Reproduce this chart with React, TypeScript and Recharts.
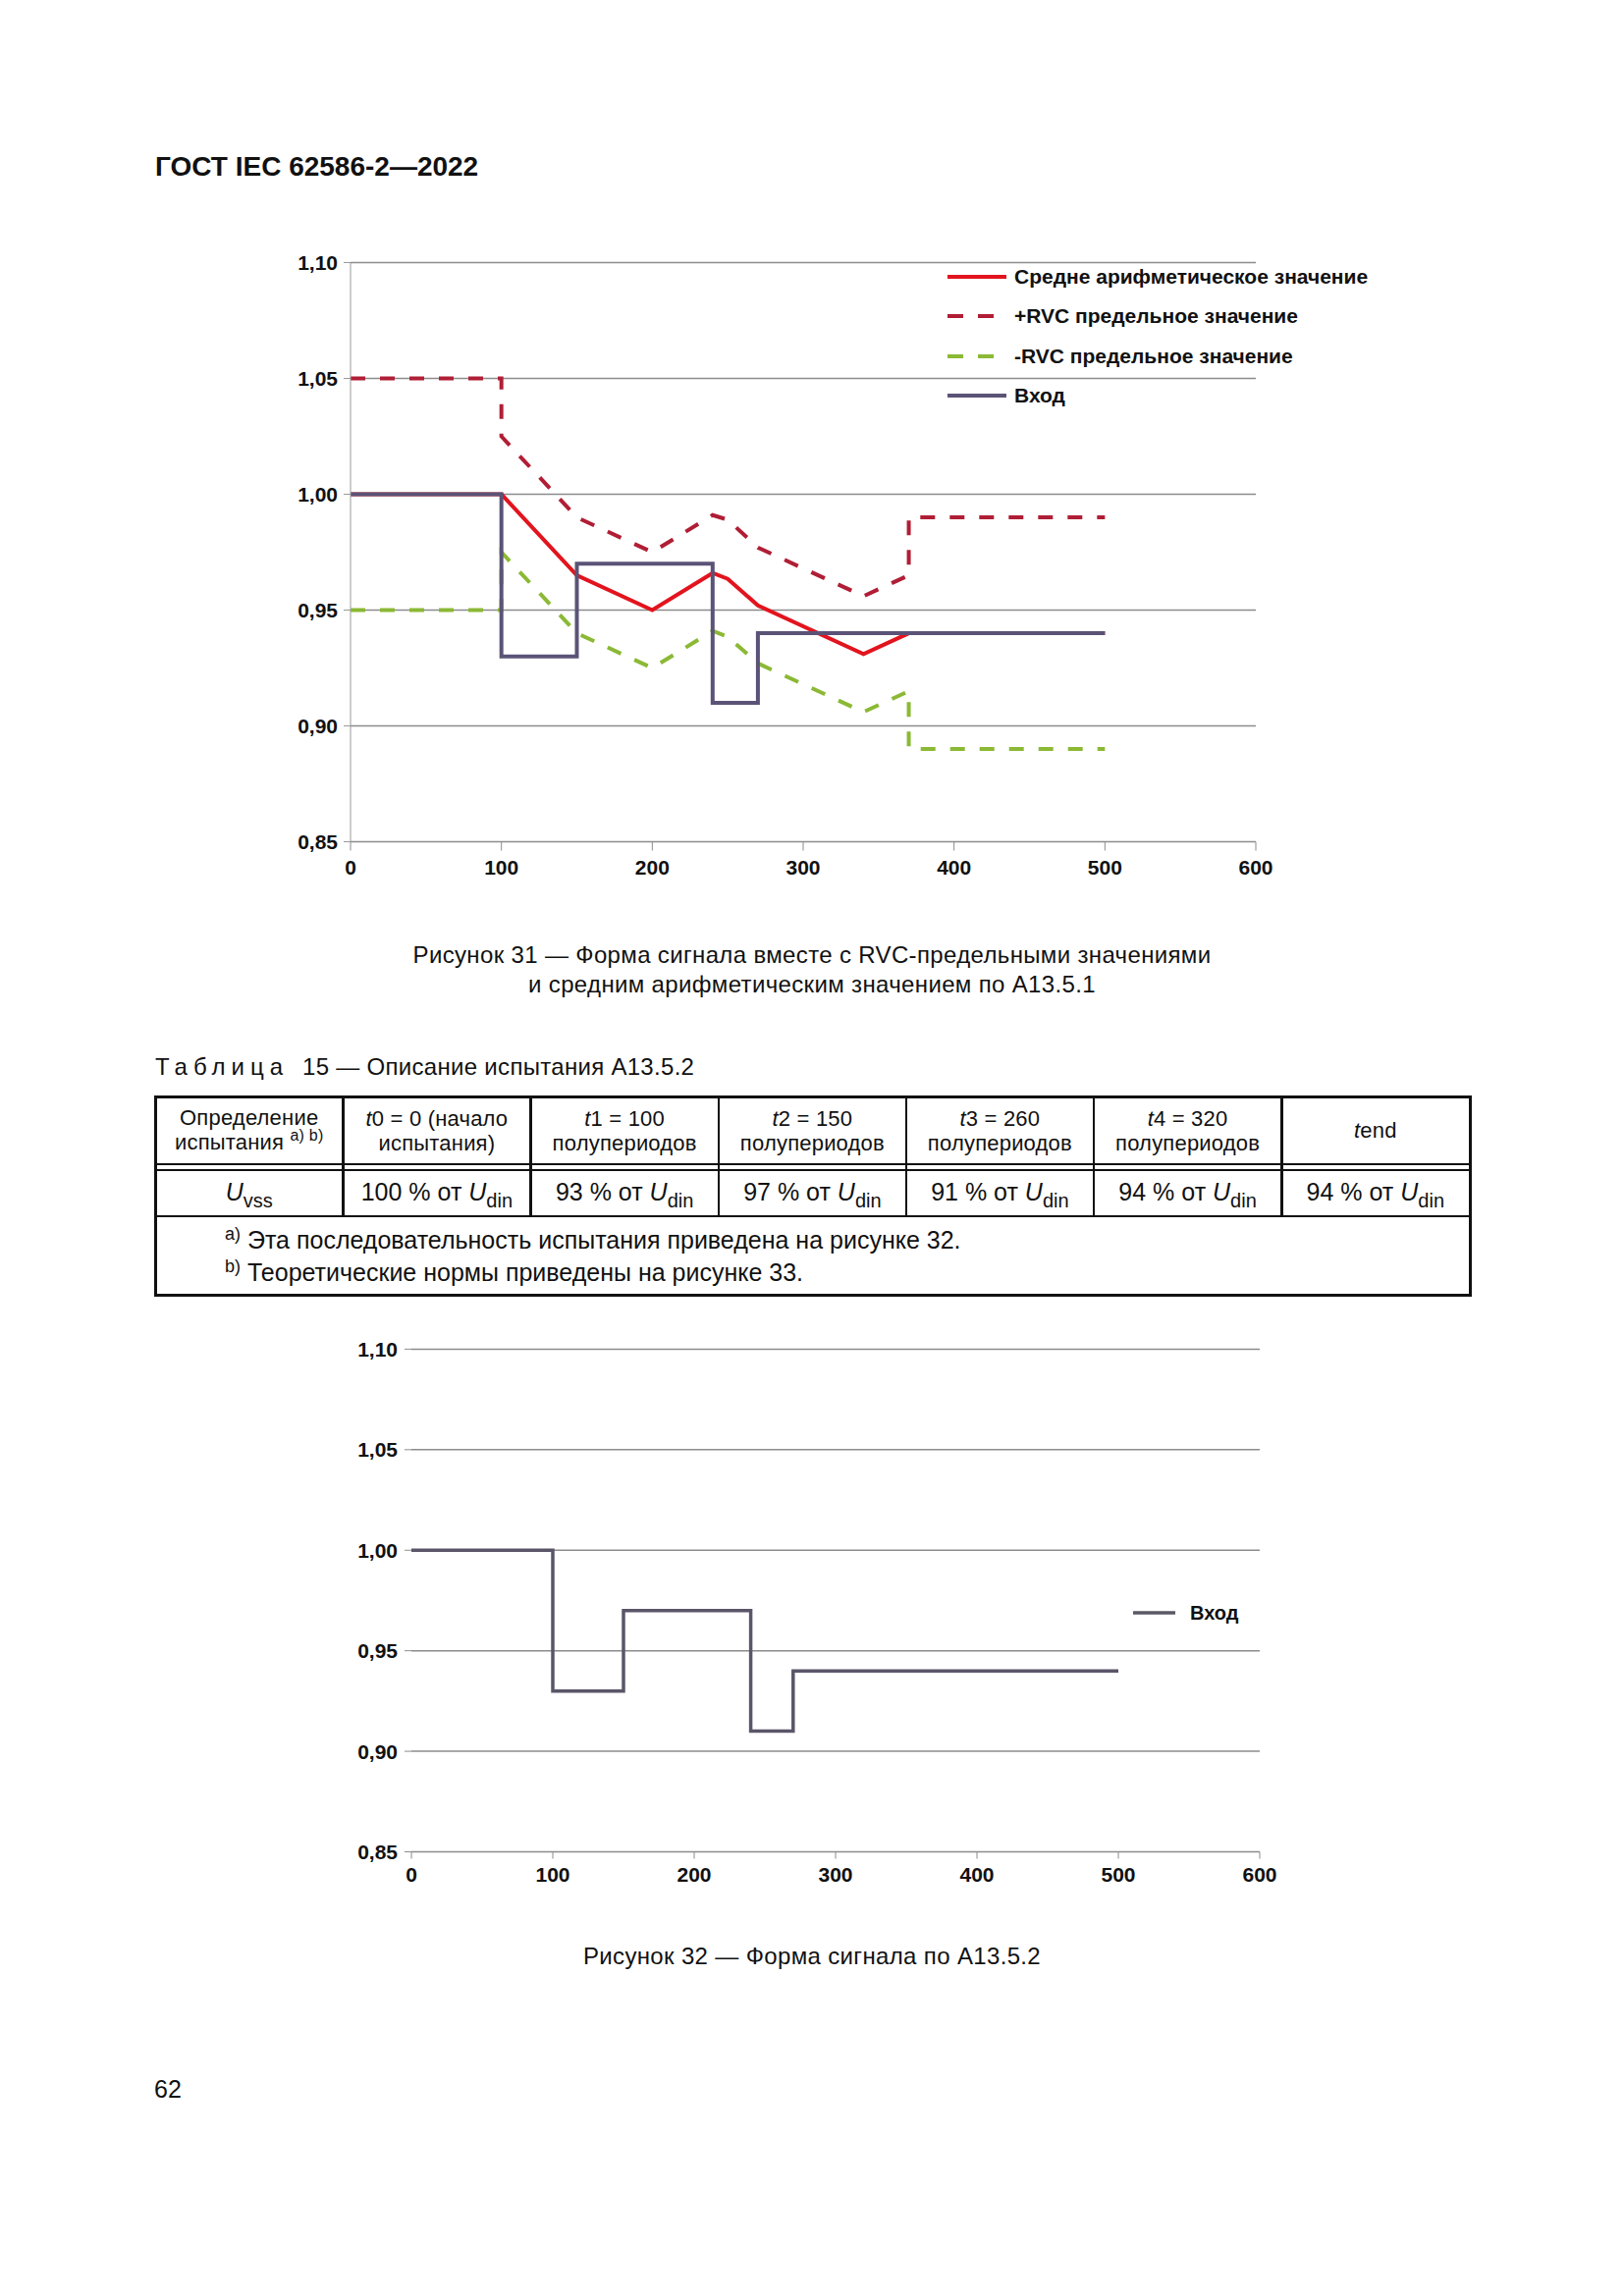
import React from "react";
import { LineChart, Line, XAxis, YAxis, CartesianGrid, Legend } from "recharts";

// axis ticks
const xTicks = [0, 100, 200, 300, 400, 500, 600];
const yTicks = [0.85, 0.9, 0.95, 1.0, 1.05, 1.1];

// mean value (Средне арифметическое значение)
const meanX = [0, 100, 150, 200, 240, 250, 270, 340, 370, 500];
const meanY = [1.0, 1.0, 0.965, 0.95, 0.966, 0.9635, 0.952, 0.931, 0.94, 0.94];

// +RVC limit
const upperX = [0, 100, 100, 150, 200, 240, 250, 270, 340, 370, 370, 500];
const upperY = [1.05, 1.05, 1.025, 0.99, 0.975, 0.991, 0.989, 0.977, 0.956, 0.965, 0.99, 0.99];

// -RVC limit
const lowerX = [0, 100, 100, 150, 200, 240, 250, 270, 340, 370, 370, 500];
const lowerY = [0.95, 0.95, 0.975, 0.94, 0.925, 0.941, 0.9385, 0.927, 0.906, 0.915, 0.89, 0.89];

// input (Вход), step after each time
const inputX = [0, 100, 150, 240, 270, 500];
const inputY = [1.0, 0.93, 0.97, 0.91, 0.94, 0.94];

// table 15
const tableTimes = ["0 = 0 (начало", "1 = 100", "2 = 150", "3 = 260", "4 = 320"];
const tablePercents = [100, 93, 97, 91, 94, 94];

const RED = "#e2141e";
const DARKRED = "#b01e35";
const GREEN = "#8bb935";
const INPUT = "#5b5377";
const GRID = "#8c8c8c";
const FONT = "'Liberation Sans', Arial, Helvetica, sans-serif";

const pts = (xs: number[], ys: number[]) => xs.map((x, i) => ({ x, y: ys[i] }));
const fmt = (v: number) => v.toFixed(2).replace(".", ",");

const legend1 = [
  { label: "Средне арифметическое значение", color: RED, dash: undefined },
  { label: "+RVC предельное значение", color: DARKRED, dash: "16 15" },
  { label: "-RVC предельное значение", color: GREEN, dash: "16 15" },
  { label: "Вход", color: INPUT, dash: undefined },
];

function Legend1() {
  return (
    <div style={{ fontFamily: FONT, fontWeight: 700, fontSize: 21, color: "#111" }}>
      {legend1.map((it) => (
        <div key={it.label} style={{ height: 40.5, display: "flex", alignItems: "center", whiteSpace: "nowrap" }}>
          <svg width={60} height={8} style={{ marginRight: 8 }}>
            <line x1={0} y1={4} x2={60} y2={4} stroke={it.color} strokeWidth={4} strokeDasharray={it.dash} />
          </svg>
          {it.label}
        </div>
      ))}
    </div>
  );
}

function Legend2() {
  return (
    <div style={{ fontFamily: FONT, fontWeight: 700, fontSize: 20, color: "#111", display: "flex", alignItems: "center", height: 30 }}>
      <svg width={43} height={6} style={{ marginRight: 15 }}>
        <line x1={0} y1={3} x2={43} y2={3} stroke="#5a5866" strokeWidth={3.5} />
      </svg>
      Вход
    </div>
  );
}

const tickStyle = { fill: "#111", fontSize: 21, fontWeight: 700, fontFamily: FONT };

function Chart1() {
  return (
    <div style={{ position: "absolute", left: 250, top: 240 }}>
      <LineChart width={1200} height={700} margin={{ top: 27.5, right: 171, bottom: 42.5, left: 27 }}>
        <CartesianGrid vertical={false} stroke={GRID} strokeWidth={1.5} />
        <XAxis
          dataKey="x"
          type="number"
          domain={[0, 600]}
          ticks={xTicks}
          height={40}
          stroke={GRID}
          tickSize={9}
          tickMargin={10}
          tick={tickStyle}
          interval={0}
        />
        <YAxis
          type="number"
          domain={[0.85, 1.1]}
          ticks={yTicks}
          width={80}
          stroke="#9a9a9a"
          tickSize={7}
          tickMargin={6}
          tick={tickStyle}
          tickFormatter={fmt}
          interval={0}
        />
        <Line data={pts(upperX, upperY)} dataKey="y" stroke={DARKRED} strokeWidth={4} strokeDasharray="15 15" dot={false} isAnimationActive={false} />
        <Line data={pts(lowerX, lowerY)} dataKey="y" stroke={GREEN} strokeWidth={4} strokeDasharray="15 15" dot={false} isAnimationActive={false} />
        <Line data={pts(meanX, meanY)} dataKey="y" stroke={RED} strokeWidth={4} dot={false} isAnimationActive={false} />
        <Line data={pts(inputX, inputY)} dataKey="y" type="stepAfter" stroke={INPUT} strokeWidth={4} dot={false} isAnimationActive={false} />
        <Legend
          layout="horizontal"
          align="center"
          verticalAlign="middle"
          content={() => <Legend1 />}
          wrapperStyle={{ position: "absolute", left: 715, top: 21.5, width: 460 }}
        />
      </LineChart>
    </div>
  );
}

function Chart2() {
  return (
    <div style={{ position: "absolute", left: 330, top: 1340 }}>
      <LineChart width={1000} height={620} margin={{ top: 34.4, right: 47, bottom: 33.5, left: 19 }}>
        <CartesianGrid vertical={false} stroke={GRID} strokeWidth={1.5} />
        <XAxis
          dataKey="x"
          type="number"
          domain={[0, 600]}
          ticks={xTicks}
          height={40}
          stroke={GRID}
          tickSize={7}
          tickMargin={9}
          tick={tickStyle}
          interval={0}
        />
        <YAxis
          type="number"
          domain={[0.85, 1.1]}
          ticks={yTicks}
          width={70}
          axisLine={false}
          stroke={GRID}
          tickSize={7}
          tickMargin={7}
          tick={tickStyle}
          tickFormatter={fmt}
          interval={0}
        />
        <Line data={pts(inputX, inputY)} dataKey="y" type="stepAfter" stroke="#5a5568" strokeWidth={3.5} dot={false} isAnimationActive={false} />
        <Legend
          layout="horizontal"
          align="center"
          verticalAlign="middle"
          content={() => <Legend2 />}
          wrapperStyle={{ position: "absolute", left: 824, top: 288, width: 120 }}
        />
      </LineChart>
    </div>
  );
}

const colEdges = [158, 349.4, 540.4, 731.9, 922.9, 1113.9, 1305.3, 1496.3];

function Sub({ children }: { children: React.ReactNode }) {
  return <span style={{ fontSize: 20, position: "relative", top: 7 }}>{children}</span>;
}
function Sup({ children, size = 16 }: { children: React.ReactNode; size?: number }) {
  return <span style={{ fontSize: size, position: "relative", top: -9 }}>{children}</span>;
}

function Table15() {
  const heads: React.ReactNode[] = [
    <>Определение<br />испытания <Sup size={16}>a) b)</Sup></>,
    ...tableTimes.map((t, i) => (
      <>
        <i>t</i>{t}
        <br />
        {i === 0 ? "испытания)" : "полупериодов"}
      </>
    )),
    <><i>t</i>end</>,
  ];
  const vals: React.ReactNode[] = [
    <><i>U</i><Sub>vss</Sub></>,
    ...tablePercents.map((p) => (
      <>{p} % от <i>U</i><Sub>din</Sub></>
    )),
  ];
  const line = (l: number, t: number, w: number, h: number) => (
    <div style={{ position: "absolute", left: l, top: t, width: w, height: h, background: "#111" }} />
  );
  return (
    <>
      {/* outer frame */}
      {line(157, 1115.5, 1341, 3)}
      {line(157, 1317.5, 1341, 3)}
      {line(157, 1115.5, 3, 205)}
      {line(1495.5, 1115.5, 3, 205)}
      {/* double rule and lower rule */}
      {line(157, 1185, 1341, 2)}
      {line(157, 1190.5, 1341, 2)}
      {line(157, 1237.5, 1341, 2.5)}
      {colEdges.slice(1, -1).map((x) => (
        <div key={x}>{line(x - 1, 1116, 2.5, 122)}</div>
      ))}
      {heads.map((h, i) => (
        <div
          key={"h" + i}
          style={{
            position: "absolute",
            left: colEdges[i],
            width: colEdges[i + 1] - colEdges[i],
            top: 1118,
            height: 67,
            display: "flex",
            alignItems: "center",
            justifyContent: "center",
            textAlign: "center",
            fontSize: 22,
            letterSpacing: 0.2,
            lineHeight: "25px",
          }}
        >
          <div>{h}</div>
        </div>
      ))}
      {vals.map((v, i) => (
        <div
          key={"v" + i}
          style={{
            position: "absolute",
            left: colEdges[i],
            width: colEdges[i + 1] - colEdges[i],
            top: 1192,
            height: 46,
            display: "flex",
            alignItems: "center",
            justifyContent: "center",
            fontSize: 25,
            lineHeight: "28px",
            whiteSpace: "nowrap",
          }}
        >
          <div>{v}</div>
        </div>
      ))}
      <div style={{ position: "absolute", left: 229, top: 1248, fontSize: 25, lineHeight: "30px", whiteSpace: "nowrap" }}>
        <div><Sup size={18}>a)</Sup> Эта последовательность испытания приведена на рисунке 32.</div>
        <div><Sup size={18}>b)</Sup> Теоретические нормы приведены на рисунке 33.</div>
      </div>
    </>
  );
}

export default function App() {
  return (
    <div
      style={{
        position: "absolute",
        left: 0,
        top: 0,
        width: 1654,
        height: 2339,
        background: "#fff",
        fontFamily: FONT,
        color: "#111",
      }}
    >
      <div style={{ position: "absolute", left: 158, top: 153, fontSize: 28, fontWeight: 700, lineHeight: "34px" }}>
        ГОСТ IEC 62586-2—2022
      </div>

      <Chart1 />

      <div
        style={{
          position: "absolute",
          left: 327,
          width: 1000,
          top: 957.5,
          textAlign: "center",
          fontSize: 24,
          letterSpacing: 0.35,
          lineHeight: "30px",
        }}
      >
        Рисунок 31 — Форма сигнала вместе с RVC-предельными значениями
        <br />и средним арифметическим значением по A13.5.1
      </div>

      <div style={{ position: "absolute", left: 158, top: 1072, fontSize: 24, letterSpacing: 0.3, lineHeight: "30px", whiteSpace: "nowrap" }}>
        <span style={{ letterSpacing: 6 }}>Таблица</span>&nbsp;&nbsp;15 — Описание испытания A13.5.2
      </div>

      <Table15 />

      <Chart2 />

      <div
        style={{
          position: "absolute",
          left: 327,
          width: 1000,
          top: 1978,
          textAlign: "center",
          fontSize: 24,
          letterSpacing: 0.35,
          lineHeight: "30px",
        }}
      >
        Рисунок 32 — Форма сигнала по A13.5.2
      </div>

      <div style={{ position: "absolute", left: 157, top: 2113, fontSize: 25, lineHeight: "30px" }}>62</div>
    </div>
  );
}
